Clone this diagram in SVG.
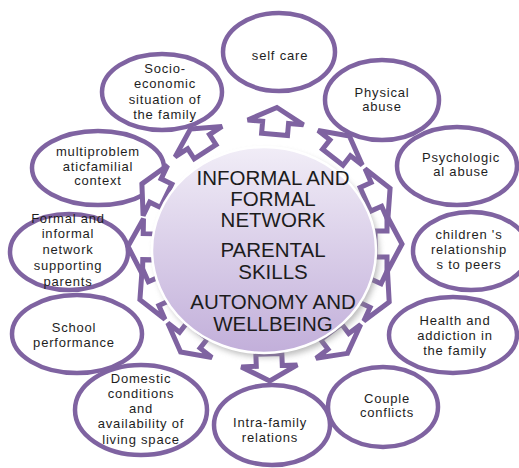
<svg xmlns="http://www.w3.org/2000/svg" width="519" height="468" viewBox="0 0 519 468">
<defs>
<linearGradient id="cg" x1="0" y1="0" x2="0" y2="1">
<stop offset="0" stop-color="#f1edf7"/>
<stop offset="1" stop-color="#c2afda"/>
</linearGradient>
<filter id="blur" x="-20%" y="-20%" width="140%" height="140%"><feGaussianBlur stdDeviation="3"/></filter>
<path id="arr" d="M0,0 L28,15 L13,15 L13,27 L-13,27 L-13,15 L-28,15 Z"/>
</defs>
<style>
.ov{fill:#fff;stroke:#7f63a1;stroke-width:4.5}
.ar{fill:#fff;stroke:#7f63a1;stroke-width:5;stroke-linejoin:miter}
.t{font-family:"Liberation Sans",Arial,sans-serif;font-size:13px;letter-spacing:0.8px;fill:#1e1e1e;text-anchor:middle}
.ct{font-family:"Liberation Sans",Arial,sans-serif;font-size:20.5px;fill:#1c1c1c;text-anchor:middle}
</style>
<rect width="519" height="468" fill="#fff"/>

<g id="n-selfcare"><ellipse class="ov" cx="279" cy="52" rx="56" ry="39"/><text class="t" x="280" y="60">self care</text></g>
<g id="n-physical"><ellipse class="ov" cx="382" cy="100" rx="57" ry="40"/><text class="t" x="382"><tspan x="382" y="97">Physical</tspan><tspan x="382" y="111">abuse</tspan></text></g>
<g id="n-psych"><ellipse class="ov" cx="457" cy="166" rx="60" ry="39"/><text class="t"><tspan x="461" y="162">Psychologic</tspan><tspan x="461" y="176">al abuse</tspan></text></g>
<g id="n-children"><ellipse class="ov" cx="471" cy="251" rx="58" ry="39"/><text class="t"><tspan x="469" y="239">children 's</tspan><tspan x="469" y="254">relationship</tspan><tspan x="469" y="269">s to peers</tspan></text></g>
<g id="n-health"><ellipse class="ov" cx="453" cy="335" rx="64" ry="38"/><text class="t"><tspan x="455" y="325">Health and</tspan><tspan x="455" y="340">addiction in</tspan><tspan x="455" y="355">the family</tspan></text></g>
<g id="n-couple"><ellipse class="ov" cx="383" cy="407" rx="55" ry="40"/><text class="t"><tspan x="387" y="403">Couple</tspan><tspan x="387" y="417">conflicts</tspan></text></g>
<g id="n-intra"><ellipse class="ov" cx="272" cy="425" rx="58" ry="40"/><text class="t"><tspan x="270" y="427">Intra-family</tspan><tspan x="270" y="442">relations</tspan></text></g>
<g id="n-domestic"><ellipse class="ov" cx="141" cy="410" rx="66" ry="45"/><text class="t"><tspan x="141" y="383">Domestic</tspan><tspan x="141" y="398">conditions</tspan><tspan x="141" y="413">and</tspan><tspan x="141" y="428">availability of</tspan><tspan x="141" y="444">living space</tspan></text></g>
<g id="n-school"><ellipse class="ov" cx="77" cy="334" rx="65" ry="39"/><text class="t"><tspan x="74" y="332">School</tspan><tspan x="74" y="347">performance</tspan></text></g>
<g id="n-formal"><ellipse class="ov" cx="69" cy="252" rx="59" ry="38"/><text class="t"><tspan x="68" y="223">Formal and</tspan><tspan x="68" y="238">informal</tspan><tspan x="68" y="254">network</tspan><tspan x="68" y="270">supporting</tspan><tspan x="68" y="286">parents</tspan></text></g>
<g id="n-multi"><ellipse class="ov" cx="98" cy="168" rx="66" ry="37"/><text class="t"><tspan x="98" y="156">multiproblem</tspan><tspan x="98" y="171">aticfamilial</tspan><tspan x="98" y="185">context</tspan></text></g>
<g id="n-socio"><ellipse class="ov" cx="162" cy="92" rx="60" ry="38"/><text class="t"><tspan x="165" y="73">Socio-</tspan><tspan x="165" y="88">economic</tspan><tspan x="165" y="104">situation of</tspan><tspan x="165" y="119">the family</tspan></text></g>

<g id="connectors">
<use href="#arr" class="ar" transform="translate(276.9,107.5) rotate(5)"/>
<use href="#arr" class="ar" transform="translate(349.4,136) rotate(38)"/>
<use href="#arr" class="ar" transform="translate(390.1,188.3) rotate(66)"/>
<use href="#arr" class="ar" transform="translate(402,244) rotate(90)"/>
<use href="#arr" class="ar" transform="translate(389.2,301.9) rotate(115)"/>
<use href="#arr" class="ar" transform="translate(347.4,353.4) rotate(143)"/>
<use href="#arr" class="ar" transform="translate(269.8,380.9) rotate(178)"/>
<use href="#arr" class="ar" transform="translate(180.6,352) rotate(218)"/>
<use href="#arr" class="ar" transform="translate(139.9,299.7) rotate(246)"/>
<use href="#arr" class="ar" transform="translate(128,246.4) rotate(271)"/>
<use href="#arr" class="ar" transform="translate(141.9,183.9) rotate(296)"/>
<use href="#arr" class="ar" transform="translate(190.4,129.1) rotate(327)"/>
</g>

<g id="n-center">
<ellipse cx="267" cy="254" rx="112" ry="103" fill="#8a8a8a" opacity="0.6" filter="url(#blur)"/>
<ellipse cx="264" cy="250" rx="112" ry="103" fill="url(#cg)" stroke="#fff" stroke-width="2.5"/>
<text class="ct"><tspan x="273" y="185">INFORMAL AND</tspan><tspan x="273" y="206">FORMAL</tspan><tspan x="273" y="227">NETWORK</tspan><tspan x="273" y="257">PARENTAL</tspan><tspan x="273" y="279">SKILLS</tspan><tspan x="273" y="309">AUTONOMY AND</tspan><tspan x="273" y="331">WELLBEING</tspan></text>
</g>
</svg>
